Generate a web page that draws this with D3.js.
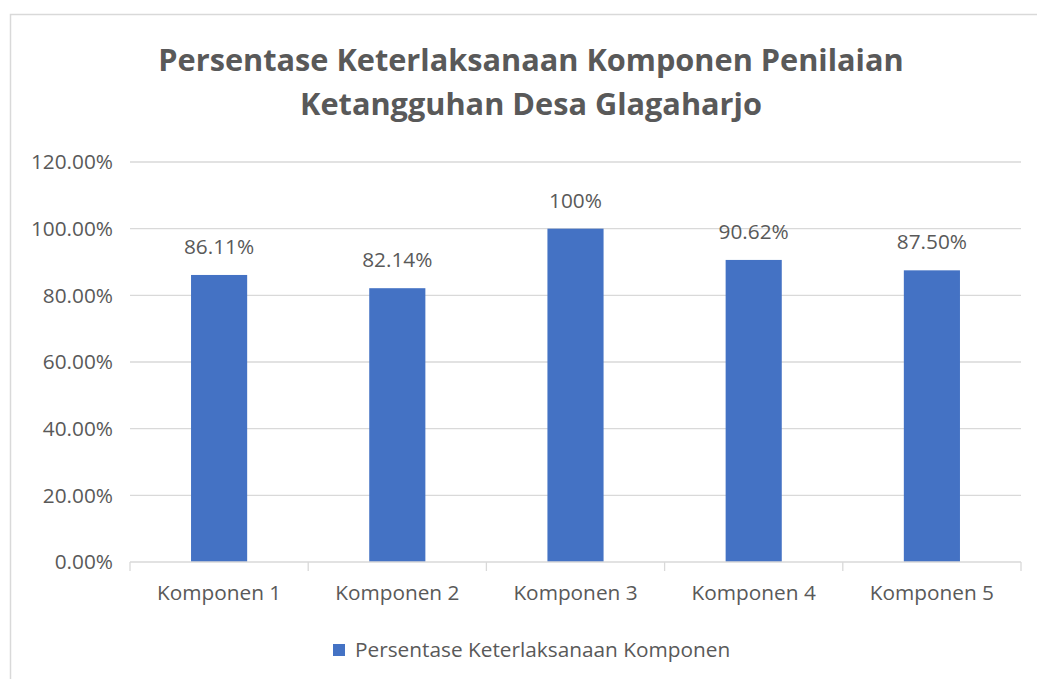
<!DOCTYPE html>
<html>
<head>
<meta charset="utf-8">
<script src="https://cdn.jsdelivr.net/npm/d3@7"></script>
<style>
  body { margin: 0; background: #fff; }
  text { font-family: "Open Sans", "Noto Sans", sans-serif; fill: #595959; }
</style>
</head>
<body>
<svg id="chart" width="1037" height="679"></svg>
<script>
const categories = ["Komponen 1", "Komponen 2", "Komponen 3", "Komponen 4", "Komponen 5"];
const values = [86.11, 82.14, 100, 90.62, 87.50];
const valueLabels = ["86.11%", "82.14%", "100%", "90.62%", "87.50%"];
const yTicks = [0, 20, 40, 60, 80, 100, 120];
const seriesName = "Persentase Keterlaksanaan Komponen";
const titleLines = ["Persentase Keterlaksanaan Komponen Penilaian", "Ketangguhan Desa Glagaharjo"];

const svg = d3.select("#chart");

// chart area border (only left/top visible in the shot)
svg.append("rect")
  .attr("x", 10.5).attr("y", 14.5)
  .attr("width", 1040).attr("height", 700)
  .attr("fill", "none")
  .attr("stroke", "#d9d9d9")
  .attr("stroke-width", 1.5);

const plot = {left: 130, right: 1021, top: 162, bottom: 562};
const labelSize = "20.8px";

const x = d3.scaleBand().domain(categories).range([plot.left, plot.right])
  .paddingInner(0.685).paddingOuter(0.3425);
const y = d3.scaleLinear().domain([0, 120]).range([plot.bottom, plot.top]);

// title
svg.append("g").selectAll("text")
  .data(titleLines)
  .enter().append("text")
    .attr("x", 531)
    .attr("y", (d, i) => 71 + i * 44)
    .attr("text-anchor", "middle")
    .style("font-size", "30.7px")
    .style("font-weight", "bold")
    .text(d => d);

// gridlines
svg.append("g").selectAll("line")
  .data(yTicks.filter(d => d > 0))
  .enter().append("line")
    .attr("x1", plot.left).attr("x2", plot.right)
    .attr("y1", d => y(d)).attr("y2", d => y(d))
    .attr("stroke", "#d9d9d9")
    .attr("stroke-width", 1.3);

// y tick labels
svg.append("g").selectAll("text")
  .data(yTicks)
  .enter().append("text")
    .attr("x", 113)
    .attr("y", d => y(d))
    .attr("dy", "0.35em")
    .attr("text-anchor", "end")
    .style("font-size", labelSize)
    .text(d => d.toFixed(2) + "%");

// bars
svg.append("g").selectAll("rect")
  .data(values)
  .enter().append("rect")
    .attr("x", (d, i) => x(categories[i]))
    .attr("y", d => y(d))
    .attr("width", x.bandwidth())
    .attr("height", d => plot.bottom - y(d))
    .attr("fill", "#4472c4");

// value labels
svg.append("g").selectAll("text")
  .data(values)
  .enter().append("text")
    .attr("x", (d, i) => x(categories[i]) + x.bandwidth() / 2)
    .attr("y", d => y(d) - 21)
    .attr("text-anchor", "middle")
    .style("font-size", labelSize)
    .text((d, i) => valueLabels[i]);

// x axis
const xAxis = svg.append("g")
  .attr("transform", "translate(0," + plot.bottom + ")");
xAxis.append("line")
  .attr("x1", plot.left).attr("x2", plot.right)
  .attr("stroke", "#d9d9d9").attr("stroke-width", 1.3);
const step = x.step();
xAxis.selectAll(".tick")
  .data(d3.range(categories.length + 1))
  .enter().append("line")
    .attr("class", "tick")
    .attr("x1", i => plot.left + i * step).attr("x2", i => plot.left + i * step)
    .attr("y1", 0).attr("y2", 9)
    .attr("stroke", "#d9d9d9").attr("stroke-width", 1.3);
xAxis.selectAll("text")
  .data(categories)
  .enter().append("text")
    .attr("x", d => x(d) + x.bandwidth() / 2)
    .attr("y", 38)
    .attr("text-anchor", "middle")
    .style("font-size", labelSize)
    .text(d => d);

// legend
const legend = svg.append("g").attr("transform", "translate(333,650)");
legend.append("rect")
  .attr("x", 0).attr("y", -6)
  .attr("width", 12).attr("height", 12)
  .attr("fill", "#4472c4");
legend.append("text")
  .attr("x", 22).attr("y", 0)
  .attr("dy", "0.35em")
  .style("font-size", labelSize)
  .text(seriesName);
</script>
</body>
</html>
